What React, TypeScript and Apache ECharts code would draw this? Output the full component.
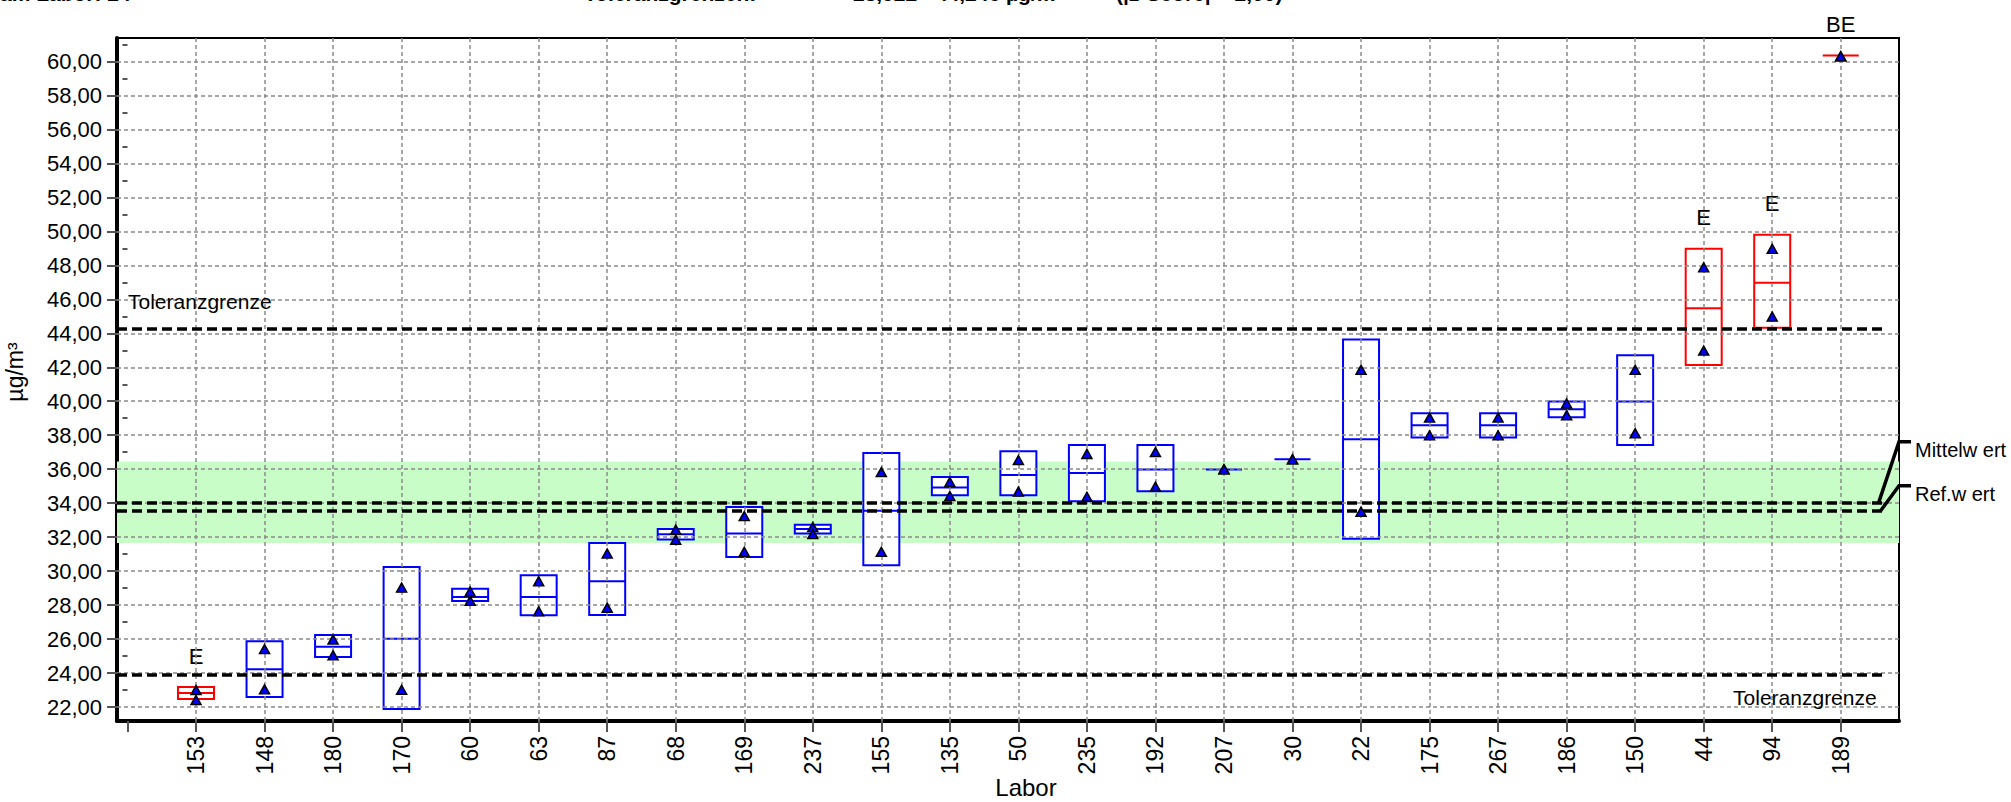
import React, { useEffect, useRef } from "react";
import * as echarts from "echarts";

// ---- data ----
const labs = ["153", "148", "180", "170", "60", "63", "87", "68", "169", "237", "155", "135", "50", "235", "192", "207", "30", "22", "175", "267", "186", "150", "44", "94", "189"];
const boxLow = [22.47, 22.59, 24.94, 21.88, 28.25, 27.4, 27.42, 31.87, 30.83, 32.22, 30.35, 34.46, 34.46, 34.11, 34.7, 35.99, 36.58, 31.9, 37.86, 37.86, 39.06, 37.43, 42.13, 44.33, 60.35];
const boxHigh = [23.18, 25.88, 26.24, 30.24, 28.96, 29.76, 31.66, 32.48, 33.77, 32.73, 36.95, 35.54, 37.05, 37.43, 37.43, 35.99, 36.58, 43.64, 39.3, 39.3, 39.99, 42.7, 48.97, 49.8, 60.35];
const boxMid = [22.83, 24.23, 25.55, 26.02, 28.48, 28.48, 29.41, 32.17, 32.22, 32.48, 33.56, 34.93, 35.66, 35.78, 35.99, 35.99, 36.58, 37.76, 38.59, 38.59, 39.53, 39.99, 45.47, 46.98, 60.35];
const valueUpper = [23.0, 25.41, 25.98, 29.03, 28.8, 29.41, 31.04, 32.44, 33.24, 32.59, 35.83, 35.25, 36.54, 36.9, 37.01, 35.99, 36.58, 41.85, 39.04, 39.04, 39.87, 41.85, 47.88, 48.97, 60.3];
const valueLower = [22.41, 23.04, 25.05, 23.02, 28.25, 27.64, 27.85, 31.85, 31.14, 32.18, 31.14, 34.42, 34.68, 34.38, 34.97, 35.99, 36.58, 33.5, 38.0, 38.0, 39.18, 38.12, 42.98, 44.98, 60.3];
const flags = ["E", "", "", "", "", "", "", "", "", "", "", "", "", "", "", "", "", "", "", "", "", "", "E", "E", "BE"];
const yTickValues = [22, 24, 26, 28, 30, 32, 34, 36, 38, 40, 42, 44, 46, 48, 50, 52, 54, 56, 58, 60];
const yMinorValues = [23, 25, 27, 29, 31, 33, 35, 37, 39, 41, 43, 45, 47, 49, 51, 53, 55, 57, 59, 61];
const tolLow = 23.922;
const tolHigh = 44.246;
const meanValue = 34.03;
const refValue = 33.56;
const bandLow = 31.65;
const bandHigh = 36.46;

const X_MIN = -0.153;
const X_MAX = 25.85;
const LINE_END = 25.67;
const Y_MIN = 21.18;
const Y_MAX = 61.38;
const FONT = "Liberation Sans, Arial, Helvetica, sans-serif";

const positions = labs.map((_, i) => i + 1);
const tickPositions = [0, ...positions];

const fmt = (v: number) => v.toFixed(2).replace(".", ",");

export default function App() {
  const ref = useRef<HTMLDivElement>(null);
  useEffect(() => {
    const el = ref.current!;
    const chart = echarts.init(el, null, { renderer: "svg" });
    const gridLine = { color: "#8a8a8a", width: 1.5, type: [4, 3] as any };
    const refLine = { color: "#000", width: 3.5, type: [10, 5] as any };

    const boxData = labs.map((_, i) => [positions[i], boxLow[i], boxHigh[i], boxMid[i], i]);
    const pointData: number[][] = [];
    labs.forEach((_, i) => {
      pointData.push([positions[i], valueUpper[i]]);
      pointData.push([positions[i], valueLower[i]]);
    });

    const option: any = {
      animation: false,
      textStyle: { fontFamily: FONT },
      grid: { left: 117, right: 112, top: 38, bottom: 81, show: true, borderColor: "#000", borderWidth: 2, backgroundColor: "transparent" },
      xAxis: {
        type: "value",
        min: X_MIN,
        max: X_MAX,
        axisLine: { show: true, onZero: false, lineStyle: { color: "#000", width: 4 } },
        axisTick: { show: true, customValues: tickPositions, length: 11, lineStyle: { color: "#555", width: 2 } },
        axisLabel: {
          show: true,
          customValues: positions,
          rotate: 90,
          margin: 15,
          fontSize: 23,
          color: "#000",
          fontFamily: FONT,
          formatter: (v: number) => labs[Math.round(v) - 1] ?? "",
        },
        splitLine: { show: false },
      },
      yAxis: [
        {
          type: "value",
          min: Y_MIN,
          max: Y_MAX,
          axisLine: { show: true, onZero: false, lineStyle: { color: "#000", width: 4 } },
          axisTick: { show: true, customValues: yTickValues, length: 10, lineStyle: { color: "#555", width: 2 } },
          axisLabel: { show: true, customValues: yTickValues, margin: 15, fontSize: 22, color: "#000", fontFamily: FONT, formatter: (v: number) => fmt(v) },
          splitLine: { show: false },
        },
        {
          type: "value",
          min: Y_MIN,
          max: Y_MAX,
          position: "left",
          axisLine: { show: false },
          axisTick: { show: true, customValues: yMinorValues, length: 5, lineStyle: { color: "#555", width: 2 } },
          axisLabel: { show: false },
          splitLine: { show: false },
        },
      ],
      series: [
        {
          name: "grid",
          type: "line",
          data: [],
          z: 1,
          silent: true,
          markLine: {
            silent: true,
            symbol: ["none", "none"],
            label: { show: false },
            lineStyle: gridLine,
            data: [...positions.map((p) => ({ xAxis: p })), ...yTickValues.map((v) => ({ yAxis: v }))],
          },
        },
        {
          name: "band",
          type: "line",
          data: [],
          z: 2,
          silent: true,
          markArea: {
            silent: true,
            itemStyle: { color: "#c8fdc8", opacity: 1 },
            data: [[{ yAxis: bandLow }, { yAxis: bandHigh }]],
          },
        },
        {
          name: "refs",
          type: "line",
          data: [],
          z: 3,
          silent: true,
          markLine: {
            silent: true,
            symbol: ["none", "none"],
            label: { show: false },
            lineStyle: refLine,
            data: [tolHigh, tolLow, meanValue, refValue].map((v) => [
              { coord: [X_MIN, v] },
              { coord: [LINE_END, v] },
            ]),
          },
        },
        {
          name: "boxes",
          type: "custom",
          z: 4,
          clip: false,
          data: boxData,
          renderItem: (params: any, api: any) => {
            const x = api.value(0);
            const lo = api.value(1);
            const hi = api.value(2);
            const mid = api.value(3);
            const idx = api.value(4);
            const flag = flags[idx];
            const color = flag ? "#ff0000" : "#0000ff";
            const [cx, yHi] = api.coord([x, hi]);
            const yLo = api.coord([x, lo])[1];
            const yMid = api.coord([x, mid])[1];
            const hw = 18;
            const children: any[] = [];
            if (yLo - yHi > 0.5) {
              children.push({
                type: "rect",
                shape: { x: cx - hw, y: yHi, width: hw * 2, height: yLo - yHi },
                style: { fill: "#ffffff", stroke: color, lineWidth: 2 },
              });
            }
            children.push({
              type: "line",
              shape: { x1: cx - hw, y1: yMid, x2: cx + hw, y2: yMid },
              style: { stroke: color, lineWidth: 2 },
            });
            if (flag) {
              children.push({
                type: "text",
                x: cx,
                y: yHi - 31,
                style: { text: flag, fontSize: 22, fill: "#000", align: "center", verticalAlign: "middle", fontFamily: FONT },
              });
            }
            return { type: "group", children };
          },
        },
        {
          name: "values",
          type: "scatter",
          z: 5,
          symbol: "triangle",
          symbolSize: [10, 9],
          itemStyle: { color: "#0000ff", borderColor: "#000", borderWidth: 1.5, opacity: 1 },
          data: pointData,
        },
      ],
    };
    chart.setOption(option);

    const py = (v: number) => chart.convertToPixel({ yAxisIndex: 0 } as any, v) as unknown as number;
    const px = (v: number) => chart.convertToPixel({ xAxisIndex: 0 } as any, v) as unknown as number;
    const right = px(X_MAX);
    const lineEnd = px(LINE_END);
    const yMean = py(meanValue);
    const yRef = py(refValue);
    const meanLabelY = yMean - 61;
    const refLabelY = yRef - 25;

    chart.setOption({
      graphic: [
        { type: "text", left: 0, top: -17, style: { text: "am Labor: 24", fontSize: 21, fontWeight: "bold", fill: "#000", fontFamily: FONT } },
        { type: "text", left: 584, top: -17, style: { text: "Toleranzgrenzen:", fontSize: 21, fontWeight: "bold", fill: "#000", fontFamily: FONT } },
        { type: "text", left: 853, top: -17, style: { text: "23,922 - 44,246 µg/m³", fontSize: 21, fontWeight: "bold", fill: "#000", fontFamily: FONT } },
        { type: "text", left: 1116, top: -17, style: { text: "(|z-Score| = 2,00)", fontSize: 21, fontWeight: "bold", fill: "#000", fontFamily: FONT } },
        {
          type: "text",
          x: px(X_MIN) + 11,
          y: py(tolHigh) - 28,
          style: { text: "Toleranzgrenze", fontSize: 21, fill: "#000", align: "left", verticalAlign: "middle", fontFamily: FONT },
          z: 10,
        },
        {
          type: "text",
          x: lineEnd - 10,
          y: py(tolLow) + 23,
          style: { text: "Toleranzgrenze", fontSize: 21, fill: "#000", align: "right", verticalAlign: "middle", fontFamily: FONT },
          z: 10,
        },
        {
          type: "polyline",
          shape: { points: [[lineEnd - 8, yMean], [right, meanLabelY], [right + 12, meanLabelY]] },
          style: { stroke: "#000", lineWidth: 3.5, fill: "none" },
          z: 10,
        },
        {
          type: "polyline",
          shape: { points: [[lineEnd - 6, yRef], [right, refLabelY], [right + 12, refLabelY]] },
          style: { stroke: "#000", lineWidth: 3.5, fill: "none" },
          z: 10,
        },
        {
          type: "text",
          x: right + 16,
          y: meanLabelY + 8,
          style: { text: "Mittelw ert", fontSize: 20, fill: "#000", align: "left", verticalAlign: "middle", fontFamily: FONT },
          z: 10,
        },
        {
          type: "text",
          x: right + 16,
          y: refLabelY + 8,
          style: { text: "Ref.w ert", fontSize: 20, fill: "#000", align: "left", verticalAlign: "middle", fontFamily: FONT },
          z: 10,
        },
        {
          type: "text",
          x: 1026,
          y: 787,
          style: { text: "Labor", fontSize: 24, fill: "#000", align: "center", verticalAlign: "middle", fontFamily: FONT },
        },
        {
          type: "text",
          x: 15,
          y: 372,
          rotation: Math.PI / 2,
          style: { text: "µg/m³", fontSize: 23, fill: "#000", align: "center", verticalAlign: "middle", fontFamily: FONT },
        },
      ],
    });

    return () => chart.dispose();
  }, []);
  return <div ref={ref} style={{ position: "absolute", left: 0, top: 0, width: 2011, height: 802 }} />;
}
